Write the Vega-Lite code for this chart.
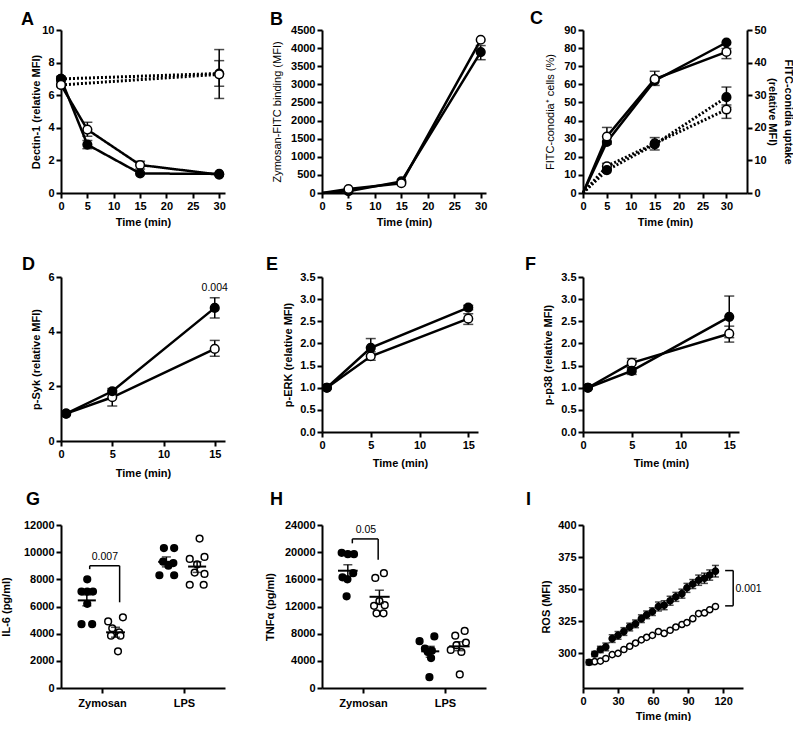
{
"$schema":"https://vega.github.io/schema/vega-lite/v6.json",
"background":"white",
"padding":{"left":0,"top":10,"right":0,"bottom":0},
"columns":3,
"spacing":{"row":84,"column":97},
"bounds":"flush",
"center":{"row":true},
"config":{
 "view":{"stroke":null},
 "font":"Liberation Sans",
 "axis":{"domainColor":"black","domainWidth":2,"tickColor":"black","tickWidth":2,"tickSize":5,"labelColor":"black","labelFont":"Liberation Sans","labelFontSize":11,"labelFontWeight":"bold","labelPadding":2,"labelFlush":false,"labelOverlap":false,"titleColor":"black","titleFont":"Liberation Sans","titleFontSize":11,"titleFontWeight":"bold","grid":false},
 "title":{"anchor":"start","frame":"group","fontSize":18,"fontWeight":"bold","color":"black","font":"Liberation Sans","baseline":"alphabetic"},
 "text":{"font":"Liberation Sans","fontSize":10.5,"color":"black"}
},
"concat":[
{
 "width":164,"height":163,
 "title":{"text":"A","dx":-40,"offset":-5},
 "data":{"values":[
  {"t":0,"v":6.63,"series":"open","style":"solid"},
  {"t":5,"v":3.89,"series":"open","style":"solid","lo":3.48,"hi":4.34},
  {"t":15,"v":1.72,"series":"open","style":"solid","lo":1.47,"hi":1.95},
  {"t":30,"v":1.13,"series":"open","style":"solid"},
  {"t":0,"v":7.0,"series":"closed","style":"solid","lo":6.83,"hi":7.16},
  {"t":5,"v":2.97,"series":"closed","style":"solid","lo":2.72,"hi":3.22},
  {"t":15,"v":1.2,"series":"closed","style":"solid"},
  {"t":30,"v":1.17,"series":"closed","style":"solid"},
  {"t":0,"v":7.0,"series":"closed","style":"dotted"},
  {"t":30,"v":7.33,"series":"closed","style":"dotted","lo":6.55,"hi":8.12},
  {"t":0,"v":6.63,"series":"open","style":"dotted"},
  {"t":30,"v":7.28,"series":"open","style":"dotted","lo":5.8,"hi":8.8}
 ]},
 "layer":[
  {"mark":{"type":"line","color":"black"},
   "encoding":{
    "x":{"field":"t","type":"quantitative","scale":{"domain":[0,31.1],"nice":false,"zero":false},"axis":{"values":[0,5,10,15,20,25,30],"title":"Time (min)","titleY":23}},
    "y":{"field":"v","type":"quantitative","scale":{"domain":[0,10],"nice":false,"zero":false},"axis":{"values":[0,2,4,6,8,10],"title":"Dectin-1 (relative MFI)","titleX":-20}},
    "detail":[{"field":"series"},{"field":"style"}],
    "strokeDash":{"field":"style","type":"nominal","scale":{"domain":["solid","dotted"],"range":[[1,0],[2,2]]},"legend":null},
    "strokeWidth":{"field":"style","type":"nominal","scale":{"domain":["solid","dotted"],"range":[2.5,3]},"legend":null}}},
  {"transform":[{"filter":"isValid(datum.lo)"}],
   "mark":{"type":"errorbar","color":"black","ticks":{"size":10,"thickness":1.5},"rule":{"strokeWidth":1.5}},
   "encoding":{
    "x":{"field":"t","type":"quantitative","scale":{"domain":[0,31.1],"nice":false,"zero":false},"axis":{"values":[0,5,10,15,20,25,30],"title":"Time (min)","titleY":23}},
    "y":{"field":"lo","type":"quantitative","scale":{"domain":[0,10],"nice":false,"zero":false},"axis":{"values":[0,2,4,6,8,10],"title":"Dectin-1 (relative MFI)","titleX":-20}},
    "y2":{"field":"hi"}}},
  {"mark":{"type":"point","shape":"circle","filled":true,"stroke":"black","strokeWidth":1.5,"size":75,"opacity":1},
   "encoding":{
    "x":{"field":"t","type":"quantitative","scale":{"domain":[0,31.1],"nice":false,"zero":false},"axis":{"values":[0,5,10,15,20,25,30],"title":"Time (min)","titleY":23}},
    "y":{"field":"v","type":"quantitative","scale":{"domain":[0,10],"nice":false,"zero":false},"axis":{"values":[0,2,4,6,8,10],"title":"Dectin-1 (relative MFI)","titleX":-20}},
    "fill":{"field":"series","type":"nominal","scale":{"domain":["closed","open"],"range":["black","white"]},"legend":null}}}
 ]
},
{
 "width":164,"height":163,
 "title":{"text":"B","dx":-52,"offset":-5},
 "data":{"values":[
  {"t":0,"v":0,"series":"closed"},
  {"t":5,"v":50,"series":"closed"},
  {"t":15,"v":320,"series":"closed"},
  {"t":30,"v":3890,"series":"closed","lo":3680,"hi":4070},
  {"t":0,"v":0,"series":"open"},
  {"t":5,"v":110,"series":"open"},
  {"t":15,"v":270,"series":"open"},
  {"t":30,"v":4230,"series":"open"}
 ]},
 "layer":[
  {"mark":{"type":"line","color":"black","strokeWidth":2.5},
   "encoding":{
    "x":{"field":"t","type":"quantitative","scale":{"domain":[0,31],"nice":false,"zero":false},"axis":{"values":[0,5,10,15,20,25,30],"title":"Time (min)","titleY":23}},
    "y":{"field":"v","type":"quantitative","scale":{"domain":[0,4500],"nice":false,"zero":false},"axis":{"values":[0,500,1000,1500,2000,2500,3000,3500,4000,4500],"format":"d","title":"Zymosan-FITC binding (MFI)","titleX":-40,"titleFontWeight":"normal"}},
    "detail":{"field":"series"}}},
  {"transform":[{"filter":"isValid(datum.lo)"}],
   "mark":{"type":"errorbar","color":"black","ticks":{"size":10,"thickness":1.5},"rule":{"strokeWidth":1.5}},
   "encoding":{
    "x":{"field":"t","type":"quantitative","scale":{"domain":[0,31],"nice":false,"zero":false},"axis":{"values":[0,5,10,15,20,25,30],"title":"Time (min)","titleY":23}},
    "y":{"field":"lo","type":"quantitative","scale":{"domain":[0,4500],"nice":false,"zero":false},"axis":{"values":[0,500,1000,1500,2000,2500,3000,3500,4000,4500],"format":"d","title":"Zymosan-FITC binding (MFI)","titleX":-40,"titleFontWeight":"normal"}},
    "y2":{"field":"hi"}}},
  {"transform":[{"filter":"datum.t > 0"}],
   "mark":{"type":"point","shape":"circle","filled":true,"stroke":"black","strokeWidth":1.5,"size":75,"opacity":1},
   "encoding":{
    "x":{"field":"t","type":"quantitative","scale":{"domain":[0,31],"nice":false,"zero":false},"axis":{"values":[0,5,10,15,20,25,30],"title":"Time (min)","titleY":23}},
    "y":{"field":"v","type":"quantitative","scale":{"domain":[0,4500],"nice":false,"zero":false},"axis":{"values":[0,500,1000,1500,2000,2500,3000,3500,4000,4500],"format":"d","title":"Zymosan-FITC binding (MFI)","titleX":-40,"titleFontWeight":"normal"}},
    "fill":{"field":"series","type":"nominal","scale":{"domain":["closed","open"],"range":["black","white"]},"legend":null}}}
 ]
},
{
 "width":164,"height":163,
 "title":{"text":"C","dx":-53,"offset":-4},
 "layer":[
  {"data":{"values":[
    {"t":0,"v":0,"series":"closed"},
    {"t":5,"v":28.2,"series":"closed"},
    {"t":15,"v":62,"series":"closed"},
    {"t":30,"v":83.1,"series":"closed"},
    {"t":0,"v":0,"series":"open"},
    {"t":5,"v":31.2,"series":"open","lo":27,"hi":36.2},
    {"t":15,"v":62.9,"series":"open","lo":59.4,"hi":67.2},
    {"t":30,"v":77.9,"series":"open","lo":74.2,"hi":79.8}
   ]},
   "layer":[
    {"mark":{"type":"line","color":"black","strokeWidth":2.5},
     "encoding":{
      "x":{"field":"t","type":"quantitative","scale":{"domain":[0,34.3],"nice":false,"zero":false},"axis":{"values":[0,5,10,15,20,25,30],"title":"Time (min)","titleY":23}},
      "y":{"field":"v","type":"quantitative","scale":{"domain":[0,90],"nice":false,"zero":false},"axis":{"values":[0,10,20,30,40,50,60,70,80,90],"title":"FITC-conodia⁺ cells (%)","titleX":-28,"titleFontWeight":"normal"}},
      "detail":{"field":"series"}}},
    {"transform":[{"filter":"isValid(datum.lo)"}],
     "mark":{"type":"errorbar","color":"black","ticks":{"size":10,"thickness":1.5},"rule":{"strokeWidth":1.5}},
     "encoding":{
      "x":{"field":"t","type":"quantitative","scale":{"domain":[0,34.3],"nice":false,"zero":false},"axis":{"values":[0,5,10,15,20,25,30],"title":"Time (min)","titleY":23}},
      "y":{"field":"lo","type":"quantitative","scale":{"domain":[0,90],"nice":false,"zero":false},"axis":{"values":[0,10,20,30,40,50,60,70,80,90],"title":"FITC-conodia⁺ cells (%)","titleX":-28,"titleFontWeight":"normal"}},
      "y2":{"field":"hi"}}},
    {"transform":[{"filter":"datum.t > 0"}],
     "mark":{"type":"point","shape":"circle","filled":true,"stroke":"black","strokeWidth":1.5,"size":75,"opacity":1},
     "encoding":{
      "x":{"field":"t","type":"quantitative","scale":{"domain":[0,34.3],"nice":false,"zero":false},"axis":{"values":[0,5,10,15,20,25,30],"title":"Time (min)","titleY":23}},
      "y":{"field":"v","type":"quantitative","scale":{"domain":[0,90],"nice":false,"zero":false},"axis":{"values":[0,10,20,30,40,50,60,70,80,90],"title":"FITC-conodia⁺ cells (%)","titleX":-28,"titleFontWeight":"normal"}},
      "fill":{"field":"series","type":"nominal","scale":{"domain":["closed","open"],"range":["black","white"]},"legend":null}}}
   ]},
  {"data":{"values":[
    {"t":0,"v":0,"series":"open"},
    {"t":5,"v":8.2,"series":"open","lo":7.2,"hi":9.1},
    {"t":15,"v":15.2,"series":"open"},
    {"t":30,"v":25.6,"series":"open","lo":22.9,"hi":27},
    {"t":0,"v":0,"series":"closed"},
    {"t":5,"v":7.0,"series":"closed"},
    {"t":15,"v":14.9,"series":"closed","lo":13.2,"hi":17},
    {"t":30,"v":29.4,"series":"closed","lo":26.3,"hi":32.5}
   ]},
   "layer":[
    {"mark":{"type":"line","color":"black","strokeWidth":3,"strokeDash":[2,2]},
     "encoding":{
      "x":{"field":"t","type":"quantitative","scale":{"domain":[0,34.3],"nice":false,"zero":false},"axis":{"values":[0,5,10,15,20,25,30],"title":"Time (min)","titleY":23}},
      "y":{"field":"v","type":"quantitative","scale":{"domain":[0,50],"nice":false,"zero":false},"axis":{"orient":"right","values":[0,10,20,30,40,50],"title":["FITC-conidia uptake","(relative MFI)"],"titleX":35,"titleAngle":90,"titleBaseline":"bottom","titleLineHeight":16}},
      "detail":{"field":"series"}}},
    {"transform":[{"filter":"isValid(datum.lo)"}],
     "mark":{"type":"errorbar","color":"black","ticks":{"size":10,"thickness":1.5},"rule":{"strokeWidth":1.5}},
     "encoding":{
      "x":{"field":"t","type":"quantitative","scale":{"domain":[0,34.3],"nice":false,"zero":false},"axis":{"values":[0,5,10,15,20,25,30],"title":"Time (min)","titleY":23}},
      "y":{"field":"lo","type":"quantitative","scale":{"domain":[0,50],"nice":false,"zero":false},"axis":{"orient":"right","values":[0,10,20,30,40,50],"title":["FITC-conidia uptake","(relative MFI)"],"titleX":35,"titleAngle":90,"titleBaseline":"bottom","titleLineHeight":16}},
      "y2":{"field":"hi"}}},
    {"transform":[{"filter":"datum.t > 0"}],
     "mark":{"type":"point","shape":"circle","filled":true,"stroke":"black","strokeWidth":1.5,"size":75,"opacity":1},
     "encoding":{
      "x":{"field":"t","type":"quantitative","scale":{"domain":[0,34.3],"nice":false,"zero":false},"axis":{"values":[0,5,10,15,20,25,30],"title":"Time (min)","titleY":23}},
      "y":{"field":"v","type":"quantitative","scale":{"domain":[0,50],"nice":false,"zero":false},"axis":{"orient":"right","values":[0,10,20,30,40,50],"title":["FITC-conidia uptake","(relative MFI)"],"titleX":35,"titleAngle":90,"titleBaseline":"bottom","titleLineHeight":16}},
      "fill":{"field":"series","type":"nominal","scale":{"domain":["closed","open"],"range":["black","white"]},"legend":null}}}
   ]}
 ],
 "resolve":{"scale":{"y":"independent"}}
},
{
 "width":164,"height":164,
 "title":{"text":"D","dx":-39,"offset":-3},
 "data":{"values":[
  {"t":0.5,"v":1,"series":"open"},
  {"t":5,"v":1.6,"series":"open","lo":1.28,"hi":1.85},
  {"t":15,"v":3.37,"series":"open","lo":3.1,"hi":3.68},
  {"t":0.5,"v":1,"series":"closed"},
  {"t":5,"v":1.82,"series":"closed","lo":1.75,"hi":1.92},
  {"t":15,"v":4.87,"series":"closed","lo":4.5,"hi":5.24}
 ]},
 "layer":[
  {"mark":{"type":"line","color":"black","strokeWidth":2.5},
   "encoding":{
    "x":{"field":"t","type":"quantitative","scale":{"domain":[0,16],"nice":false,"zero":false},"axis":{"values":[0,5,10,15],"title":"Time (min)","titleY":26}},
    "y":{"field":"v","type":"quantitative","scale":{"domain":[0,6],"nice":false,"zero":false},"axis":{"values":[0,2,4,6],"title":"p-Syk (relative MFI)","titleX":-20}},
    "detail":{"field":"series"}}},
  {"transform":[{"filter":"isValid(datum.lo)"}],
   "mark":{"type":"errorbar","color":"black","ticks":{"size":10,"thickness":1.5},"rule":{"strokeWidth":1.5}},
   "encoding":{
    "x":{"field":"t","type":"quantitative","scale":{"domain":[0,16],"nice":false,"zero":false},"axis":{"values":[0,5,10,15],"title":"Time (min)","titleY":26}},
    "y":{"field":"lo","type":"quantitative","scale":{"domain":[0,6],"nice":false,"zero":false},"axis":{"values":[0,2,4,6],"title":"p-Syk (relative MFI)","titleX":-20}},
    "y2":{"field":"hi"}}},
  {"mark":{"type":"point","shape":"circle","filled":true,"stroke":"black","strokeWidth":1.5,"size":75,"opacity":1},
   "encoding":{
    "x":{"field":"t","type":"quantitative","scale":{"domain":[0,16],"nice":false,"zero":false},"axis":{"values":[0,5,10,15],"title":"Time (min)","titleY":26}},
    "y":{"field":"v","type":"quantitative","scale":{"domain":[0,6],"nice":false,"zero":false},"axis":{"values":[0,2,4,6],"title":"p-Syk (relative MFI)","titleX":-20}},
    "fill":{"field":"series","type":"nominal","scale":{"domain":["closed","open"],"range":["black","white"]},"legend":null}}},
  {"data":{"values":[{"t":15,"v":5.42,"label":"0.004"}]},
   "mark":{"type":"text","baseline":"bottom","align":"center","color":"black"},
   "encoding":{
    "x":{"field":"t","type":"quantitative","scale":{"domain":[0,16],"nice":false,"zero":false},"axis":{"values":[0,5,10,15],"title":"Time (min)","titleY":26}},
    "y":{"field":"v","type":"quantitative","scale":{"domain":[0,6],"nice":false,"zero":false},"axis":{"values":[0,2,4,6],"title":"p-Syk (relative MFI)","titleX":-20}},
    "text":{"field":"label"}}}
 ]
},
{
 "width":156,"height":155,
 "title":{"text":"E","dx":-56,"offset":-3},
 "data":{"values":[
  {"t":0.5,"v":1,"series":"open"},
  {"t":5,"v":1.71,"series":"open","lo":1.62,"hi":1.81},
  {"t":15,"v":2.56,"series":"open","lo":2.43,"hi":2.67},
  {"t":0.5,"v":1,"series":"closed"},
  {"t":5,"v":1.9,"series":"closed","lo":1.75,"hi":2.11},
  {"t":15,"v":2.81,"series":"closed","lo":2.76,"hi":2.86}
 ]},
 "layer":[
  {"mark":{"type":"line","color":"black","strokeWidth":2.5},
   "encoding":{
    "x":{"field":"t","type":"quantitative","scale":{"domain":[0,16],"nice":false,"zero":false},"axis":{"values":[0,5,10,15],"title":"Time (min)","titleY":25}},
    "y":{"field":"v","type":"quantitative","scale":{"domain":[0,3.5],"nice":false,"zero":false},"axis":{"values":[0,0.5,1,1.5,2,2.5,3,3.5],"format":".1f","title":"p-ERK (relative MFI)","titleX":-29}},
    "detail":{"field":"series"}}},
  {"transform":[{"filter":"isValid(datum.lo)"}],
   "mark":{"type":"errorbar","color":"black","ticks":{"size":10,"thickness":1.5},"rule":{"strokeWidth":1.5}},
   "encoding":{
    "x":{"field":"t","type":"quantitative","scale":{"domain":[0,16],"nice":false,"zero":false},"axis":{"values":[0,5,10,15],"title":"Time (min)","titleY":25}},
    "y":{"field":"lo","type":"quantitative","scale":{"domain":[0,3.5],"nice":false,"zero":false},"axis":{"values":[0,0.5,1,1.5,2,2.5,3,3.5],"format":".1f","title":"p-ERK (relative MFI)","titleX":-29}},
    "y2":{"field":"hi"}}},
  {"mark":{"type":"point","shape":"circle","filled":true,"stroke":"black","strokeWidth":1.5,"size":75,"opacity":1},
   "encoding":{
    "x":{"field":"t","type":"quantitative","scale":{"domain":[0,16],"nice":false,"zero":false},"axis":{"values":[0,5,10,15],"title":"Time (min)","titleY":25}},
    "y":{"field":"v","type":"quantitative","scale":{"domain":[0,3.5],"nice":false,"zero":false},"axis":{"values":[0,0.5,1,1.5,2,2.5,3,3.5],"format":".1f","title":"p-ERK (relative MFI)","titleX":-29}},
    "fill":{"field":"series","type":"nominal","scale":{"domain":["closed","open"],"range":["black","white"]},"legend":null}}}
 ]
},
{
 "width":156,"height":155,
 "title":{"text":"F","dx":-58,"offset":-3},
 "data":{"values":[
  {"t":0.5,"v":1,"series":"open"},
  {"t":5,"v":1.56,"series":"open","lo":1.45,"hi":1.66},
  {"t":15,"v":2.22,"series":"open","lo":2.03,"hi":2.39},
  {"t":0.5,"v":1,"series":"closed"},
  {"t":5,"v":1.38,"series":"closed","lo":1.3,"hi":1.45},
  {"t":15,"v":2.6,"series":"closed","lo":2.13,"hi":3.07}
 ]},
 "layer":[
  {"mark":{"type":"line","color":"black","strokeWidth":2.5},
   "encoding":{
    "x":{"field":"t","type":"quantitative","scale":{"domain":[0,16],"nice":false,"zero":false},"axis":{"values":[0,5,10,15],"title":"Time (min)","titleY":25}},
    "y":{"field":"v","type":"quantitative","scale":{"domain":[0,3.5],"nice":false,"zero":false},"axis":{"values":[0,0.5,1,1.5,2,2.5,3,3.5],"format":".1f","title":"p-p38 (relative MFI)","titleX":-30}},
    "detail":{"field":"series"}}},
  {"transform":[{"filter":"isValid(datum.lo)"}],
   "mark":{"type":"errorbar","color":"black","ticks":{"size":10,"thickness":1.5},"rule":{"strokeWidth":1.5}},
   "encoding":{
    "x":{"field":"t","type":"quantitative","scale":{"domain":[0,16],"nice":false,"zero":false},"axis":{"values":[0,5,10,15],"title":"Time (min)","titleY":25}},
    "y":{"field":"lo","type":"quantitative","scale":{"domain":[0,3.5],"nice":false,"zero":false},"axis":{"values":[0,0.5,1,1.5,2,2.5,3,3.5],"format":".1f","title":"p-p38 (relative MFI)","titleX":-30}},
    "y2":{"field":"hi"}}},
  {"mark":{"type":"point","shape":"circle","filled":true,"stroke":"black","strokeWidth":1.5,"size":75,"opacity":1},
   "encoding":{
    "x":{"field":"t","type":"quantitative","scale":{"domain":[0,16],"nice":false,"zero":false},"axis":{"values":[0,5,10,15],"title":"Time (min)","titleY":25}},
    "y":{"field":"v","type":"quantitative","scale":{"domain":[0,3.5],"nice":false,"zero":false},"axis":{"values":[0,0.5,1,1.5,2,2.5,3,3.5],"format":".1f","title":"p-p38 (relative MFI)","titleX":-30}},
    "fill":{"field":"series","type":"nominal","scale":{"domain":["closed","open"],"range":["black","white"]},"legend":null}}}
 ]
},
{
 "width":164,"height":163,
 "title":{"text":"G","dx":-35,"offset":10},
 "layer":[
  {"data":{"values":[
    {"x":0.64,"v":8000,"series":"closed"},{"x":0.50,"v":7100,"series":"closed"},{"x":0.64,"v":7100,"series":"closed"},{"x":0.78,"v":7100,"series":"closed"},{"x":0.64,"v":6200,"series":"closed"},{"x":0.50,"v":4700,"series":"closed"},{"x":0.76,"v":4700,"series":"closed"},
    {"x":1.15,"v":4900,"series":"open"},{"x":1.51,"v":5200,"series":"open"},{"x":1.25,"v":4400,"series":"open"},{"x":1.42,"v":4100,"series":"open"},{"x":1.22,"v":3850,"series":"open"},{"x":1.45,"v":3850,"series":"open"},{"x":1.39,"v":2700,"series":"open"},
    {"x":2.51,"v":10300,"series":"closed"},{"x":2.76,"v":10300,"series":"closed"},{"x":2.49,"v":9300,"series":"closed"},{"x":2.74,"v":9200,"series":"closed"},{"x":2.62,"v":9000,"series":"closed"},{"x":2.40,"v":8300,"series":"closed"},{"x":2.76,"v":8300,"series":"closed"},
    {"x":3.38,"v":11000,"series":"open"},{"x":3.14,"v":9500,"series":"open"},{"x":3.50,"v":9650,"series":"open"},{"x":3.32,"v":9100,"series":"open"},{"x":3.26,"v":8500,"series":"open"},{"x":3.50,"v":8400,"series":"open"},{"x":3.14,"v":7600,"series":"open"},{"x":3.48,"v":7600,"series":"open"}
   ]},
   "mark":{"type":"point","shape":"circle","filled":true,"stroke":"black","strokeWidth":1.5,"size":45,"opacity":1},
   "encoding":{
    "x":{"field":"x","type":"quantitative","scale":{"domain":[0,4],"nice":false,"zero":false},"axis":{"values":[1,3],"labelExpr":"datum.value == 1 ? 'Zymosan' : 'LPS'","title":null,"labelPadding":4}},
    "y":{"field":"v","type":"quantitative","scale":{"domain":[0,12000],"nice":false,"zero":false},"axis":{"values":[0,2000,4000,6000,8000,10000,12000],"format":"d","title":"IL-6 (pg/ml)","titleX":-50}},
    "fill":{"field":"series","type":"nominal","scale":{"domain":["closed","open"],"range":["black","white"]},"legend":null}}},
  {"data":{"values":[
    {"xc":0.63,"x1":0.41,"x2":0.85,"m":6450,"lo":6050,"hi":6850},
    {"xc":1.33,"x1":1.10,"x2":1.56,"m":4100,"lo":3740,"hi":4470},
    {"xc":2.57,"x1":2.37,"x2":2.78,"m":9290,"lo":8920,"hi":9650},
    {"xc":3.32,"x1":3.10,"x2":3.54,"m":8940,"lo":8510,"hi":9290}
   ]},
   "layer":[
    {"mark":{"type":"rule","color":"black","strokeWidth":2},
     "encoding":{
      "x":{"field":"x1","type":"quantitative","scale":{"domain":[0,4],"nice":false,"zero":false},"axis":{"values":[1,3],"labelExpr":"datum.value == 1 ? 'Zymosan' : 'LPS'","title":null,"labelPadding":4}},
      "x2":{"field":"x2"},
      "y":{"field":"m","type":"quantitative","scale":{"domain":[0,12000],"nice":false,"zero":false},"axis":{"values":[0,2000,4000,6000,8000,10000,12000],"format":"d","title":"IL-6 (pg/ml)","titleX":-50}}}},
    {"mark":{"type":"errorbar","color":"black","ticks":{"size":9,"thickness":1.5},"rule":{"strokeWidth":1.5}},
     "encoding":{
      "x":{"field":"xc","type":"quantitative","scale":{"domain":[0,4],"nice":false,"zero":false},"axis":{"values":[1,3],"labelExpr":"datum.value == 1 ? 'Zymosan' : 'LPS'","title":null,"labelPadding":4}},
      "y":{"field":"lo","type":"quantitative","scale":{"domain":[0,12000],"nice":false,"zero":false},"axis":{"values":[0,2000,4000,6000,8000,10000,12000],"format":"d","title":"IL-6 (pg/ml)","titleX":-50}},
      "y2":{"field":"hi"}}}
   ]},
  {"data":{"values":[
    {"x":0.70,"x2":1.43,"y":9000,"y2":9000},
    {"x":0.70,"x2":0.70,"y":8750,"y2":9000},
    {"x":1.43,"x2":1.43,"y":6310,"y2":9000}
   ]},
   "mark":{"type":"rule","color":"black","strokeWidth":1.5},
   "encoding":{
    "x":{"field":"x","type":"quantitative","scale":{"domain":[0,4],"nice":false,"zero":false},"axis":{"values":[1,3],"labelExpr":"datum.value == 1 ? 'Zymosan' : 'LPS'","title":null,"labelPadding":4}},
    "x2":{"field":"x2"},
    "y":{"field":"y","type":"quantitative","scale":{"domain":[0,12000],"nice":false,"zero":false},"axis":{"values":[0,2000,4000,6000,8000,10000,12000],"format":"d","title":"IL-6 (pg/ml)","titleX":-50}},
    "y2":{"field":"y2"}}},
  {"data":{"values":[{"x":1.07,"y":9300,"label":"0.007"}]},
   "mark":{"type":"text","baseline":"bottom","align":"center","color":"black"},
   "encoding":{
    "x":{"field":"x","type":"quantitative","scale":{"domain":[0,4],"nice":false,"zero":false},"axis":{"values":[1,3],"labelExpr":"datum.value == 1 ? 'Zymosan' : 'LPS'","title":null,"labelPadding":4}},
    "y":{"field":"y","type":"quantitative","scale":{"domain":[0,12000],"nice":false,"zero":false},"axis":{"values":[0,2000,4000,6000,8000,10000,12000],"format":"d","title":"IL-6 (pg/ml)","titleX":-50}},
    "text":{"field":"label"}}}
 ]
},
{
 "width":164,"height":163,
 "title":{"text":"H","dx":-52,"offset":10},
 "layer":[
  {"data":{"values":[
    {"x":0.48,"v":19900,"series":"closed"},{"x":0.63,"v":19700,"series":"closed"},{"x":0.78,"v":19700,"series":"closed"},{"x":0.50,"v":16300,"series":"closed"},{"x":0.76,"v":16900,"series":"closed"},{"x":0.62,"v":16000,"series":"closed"},{"x":0.60,"v":13500,"series":"closed"},
    {"x":1.30,"v":16200,"series":"open"},{"x":1.51,"v":16900,"series":"open"},{"x":1.40,"v":12800,"series":"open"},{"x":1.27,"v":12100,"series":"open"},{"x":1.33,"v":11000,"series":"open"},{"x":1.50,"v":11000,"series":"open"},{"x":1.53,"v":12200,"series":"open"},
    {"x":2.38,"v":6900,"series":"closed"},{"x":2.74,"v":7600,"series":"closed"},{"x":2.51,"v":5800,"series":"closed"},{"x":2.68,"v":5500,"series":"closed"},{"x":2.58,"v":5300,"series":"closed"},{"x":2.66,"v":4400,"series":"closed"},{"x":2.62,"v":1600,"series":"closed"},
    {"x":3.25,"v":7700,"series":"open"},{"x":3.48,"v":8400,"series":"open"},{"x":3.51,"v":6700,"series":"open"},{"x":3.28,"v":6300,"series":"open"},{"x":3.14,"v":5600,"series":"open"},{"x":3.40,"v":5300,"series":"open"},{"x":3.36,"v":2000,"series":"open"}
   ]},
   "mark":{"type":"point","shape":"circle","filled":true,"stroke":"black","strokeWidth":1.5,"size":45,"opacity":1},
   "encoding":{
    "x":{"field":"x","type":"quantitative","scale":{"domain":[0,4],"nice":false,"zero":false},"axis":{"values":[1,3],"labelExpr":"datum.value == 1 ? 'Zymosan' : 'LPS'","title":null,"labelPadding":4}},
    "y":{"field":"v","type":"quantitative","scale":{"domain":[0,24000],"nice":false,"zero":false},"axis":{"values":[0,4000,8000,12000,16000,20000,24000],"format":"d","title":"TNFα (pg/ml)","titleX":-47}},
    "fill":{"field":"series","type":"nominal","scale":{"domain":["closed","open"],"range":["black","white"]},"legend":null}}},
  {"data":{"values":[
    {"xc":0.63,"x1":0.39,"x2":0.87,"m":17270,"lo":16450,"hi":18150},
    {"xc":1.40,"x1":1.16,"x2":1.65,"m":13430,"lo":12460,"hi":14400},
    {"xc":2.64,"x1":2.42,"x2":2.86,"m":5400,"lo":4530,"hi":6130},
    {"xc":3.35,"x1":3.10,"x2":3.60,"m":6130,"lo":5500,"hi":6810}
   ]},
   "layer":[
    {"mark":{"type":"rule","color":"black","strokeWidth":2},
     "encoding":{
      "x":{"field":"x1","type":"quantitative","scale":{"domain":[0,4],"nice":false,"zero":false},"axis":{"values":[1,3],"labelExpr":"datum.value == 1 ? 'Zymosan' : 'LPS'","title":null,"labelPadding":4}},
      "x2":{"field":"x2"},
      "y":{"field":"m","type":"quantitative","scale":{"domain":[0,24000],"nice":false,"zero":false},"axis":{"values":[0,4000,8000,12000,16000,20000,24000],"format":"d","title":"TNFα (pg/ml)","titleX":-47}}}},
    {"mark":{"type":"errorbar","color":"black","ticks":{"size":9,"thickness":1.5},"rule":{"strokeWidth":1.5}},
     "encoding":{
      "x":{"field":"xc","type":"quantitative","scale":{"domain":[0,4],"nice":false,"zero":false},"axis":{"values":[1,3],"labelExpr":"datum.value == 1 ? 'Zymosan' : 'LPS'","title":null,"labelPadding":4}},
      "y":{"field":"lo","type":"quantitative","scale":{"domain":[0,24000],"nice":false,"zero":false},"axis":{"values":[0,4000,8000,12000,16000,20000,24000],"format":"d","title":"TNFα (pg/ml)","titleX":-47}},
      "y2":{"field":"hi"}}}
   ]},
  {"data":{"values":[
    {"x":0.74,"x2":1.37,"y":21950,"y2":21950},
    {"x":0.74,"x2":0.74,"y":21300,"y2":21950},
    {"x":1.37,"x2":1.37,"y":18880,"y2":21950}
   ]},
   "mark":{"type":"rule","color":"black","strokeWidth":1.5},
   "encoding":{
    "x":{"field":"x","type":"quantitative","scale":{"domain":[0,4],"nice":false,"zero":false},"axis":{"values":[1,3],"labelExpr":"datum.value == 1 ? 'Zymosan' : 'LPS'","title":null,"labelPadding":4}},
    "x2":{"field":"x2"},
    "y":{"field":"y","type":"quantitative","scale":{"domain":[0,24000],"nice":false,"zero":false},"axis":{"values":[0,4000,8000,12000,16000,20000,24000],"format":"d","title":"TNFα (pg/ml)","titleX":-47}},
    "y2":{"field":"y2"}}},
  {"data":{"values":[{"x":1.07,"y":22600,"label":"0.05"}]},
   "mark":{"type":"text","baseline":"bottom","align":"center","color":"black"},
   "encoding":{
    "x":{"field":"x","type":"quantitative","scale":{"domain":[0,4],"nice":false,"zero":false},"axis":{"values":[1,3],"labelExpr":"datum.value == 1 ? 'Zymosan' : 'LPS'","title":null,"labelPadding":4}},
    "y":{"field":"y","type":"quantitative","scale":{"domain":[0,24000],"nice":false,"zero":false},"axis":{"values":[0,4000,8000,12000,16000,20000,24000],"format":"d","title":"TNFα (pg/ml)","titleX":-47}},
    "text":{"field":"label"}}}
 ]
},
{
 "width":160,"height":163,
 "title":{"text":"I","dx":-57,"offset":10},
 "layer":[
  {"data":{"values":[
    {"t":5.2,"v":293,"lo":291,"hi":295},{"t":10,"v":299.5,"lo":297.5,"hi":301.5},{"t":14.9,"v":303,"lo":300.5,"hi":305.5},{"t":19.5,"v":305,"lo":302,"hi":308},{"t":25,"v":311.5,"lo":308.5,"hi":314.5},{"t":30,"v":314,"lo":311,"hi":317},{"t":35,"v":317,"lo":314,"hi":320},{"t":40,"v":320.5,"lo":317.5,"hi":323.5},{"t":45,"v":323,"lo":320,"hi":326},{"t":50,"v":327,"lo":324,"hi":330},{"t":54.5,"v":330,"lo":327,"hi":333},{"t":59.4,"v":332.5,"lo":329.5,"hi":335.5},{"t":64.6,"v":336.5,"lo":333,"hi":340},{"t":69.5,"v":337.5,"lo":334,"hi":341},{"t":74.6,"v":341,"lo":337.5,"hi":344.5},{"t":79.5,"v":344,"lo":340.5,"hi":347.5},{"t":84.7,"v":346.5,"lo":343,"hi":350},{"t":89,"v":351,"lo":347.5,"hi":354.5},{"t":94,"v":354,"lo":350.5,"hi":357.5},{"t":99,"v":357,"lo":353,"hi":361},{"t":104,"v":358.5,"lo":354.5,"hi":362.5},{"t":108.5,"v":361,"lo":357,"hi":365},{"t":113.4,"v":364,"lo":359.5,"hi":368.5}
   ]},
   "mark":{"type":"errorbar","color":"black","ticks":{"size":7,"thickness":1.5},"rule":{"strokeWidth":1.5}},
   "encoding":{
    "x":{"field":"t","type":"quantitative","scale":{"domain":[0,137],"nice":false,"zero":false},"axis":{"values":[0,30,60,90,120],"title":"Time (min)","titleY":22}},
    "y":{"field":"lo","type":"quantitative","scale":{"domain":[273,400],"nice":false,"zero":false},"axis":{"values":[300,325,350,375,400],"title":"ROS (MFI)","titleX":-32}},
    "y2":{"field":"hi"}}},
  {"data":{"values":[
    {"t":10,"v":293.5,"series":"open"},{"t":14.9,"v":294,"series":"open"},{"t":19.5,"v":296,"series":"open"},{"t":25,"v":299,"series":"open"},{"t":30,"v":300,"series":"open"},{"t":35,"v":303,"series":"open"},{"t":40,"v":305.5,"series":"open"},{"t":45,"v":308,"series":"open"},{"t":50,"v":310.5,"series":"open"},{"t":54.5,"v":312.5,"series":"open"},{"t":59.4,"v":314,"series":"open"},{"t":64.6,"v":317,"series":"open"},{"t":69.5,"v":315.5,"series":"open"},{"t":74.6,"v":318,"series":"open"},{"t":79.5,"v":320.5,"series":"open"},{"t":84.7,"v":322.5,"series":"open"},{"t":89,"v":324,"series":"open"},{"t":94,"v":327,"series":"open"},{"t":99,"v":331,"series":"open"},{"t":104,"v":331.5,"series":"open"},{"t":108.5,"v":334,"series":"open"},{"t":113.4,"v":336.5,"series":"open"},
    {"t":5.2,"v":293,"series":"closed"},{"t":10,"v":299.5,"series":"closed"},{"t":14.9,"v":303,"series":"closed"},{"t":19.5,"v":305,"series":"closed"},{"t":25,"v":311.5,"series":"closed"},{"t":30,"v":314,"series":"closed"},{"t":35,"v":317,"series":"closed"},{"t":40,"v":320.5,"series":"closed"},{"t":45,"v":323,"series":"closed"},{"t":50,"v":327,"series":"closed"},{"t":54.5,"v":330,"series":"closed"},{"t":59.4,"v":332.5,"series":"closed"},{"t":64.6,"v":336.5,"series":"closed"},{"t":69.5,"v":337.5,"series":"closed"},{"t":74.6,"v":341,"series":"closed"},{"t":79.5,"v":344,"series":"closed"},{"t":84.7,"v":346.5,"series":"closed"},{"t":89,"v":351,"series":"closed"},{"t":94,"v":354,"series":"closed"},{"t":99,"v":357,"series":"closed"},{"t":104,"v":358.5,"series":"closed"},{"t":108.5,"v":361,"series":"closed"},{"t":113.4,"v":364,"series":"closed"}
   ]},
   "mark":{"type":"point","shape":"circle","filled":true,"stroke":"black","strokeWidth":1.5,"size":38,"opacity":1},
   "encoding":{
    "x":{"field":"t","type":"quantitative","scale":{"domain":[0,137],"nice":false,"zero":false},"axis":{"values":[0,30,60,90,120],"title":"Time (min)","titleY":22}},
    "y":{"field":"v","type":"quantitative","scale":{"domain":[273,400],"nice":false,"zero":false},"axis":{"values":[300,325,350,375,400],"title":"ROS (MFI)","titleX":-32}},
    "fill":{"field":"series","type":"nominal","scale":{"domain":["closed","open"],"range":["black","white"]},"legend":null}}},
  {"data":{"values":[
    {"x":121.7,"x2":128.6,"y":364.5,"y2":364.5},
    {"x":121.7,"x2":128.6,"y":337,"y2":337},
    {"x":128.6,"x2":128.6,"y":337,"y2":364.5}
   ]},
   "mark":{"type":"rule","color":"black","strokeWidth":1.5},
   "encoding":{
    "x":{"field":"x","type":"quantitative","scale":{"domain":[0,137],"nice":false,"zero":false},"axis":{"values":[0,30,60,90,120],"title":"Time (min)","titleY":22}},
    "x2":{"field":"x2"},
    "y":{"field":"y","type":"quantitative","scale":{"domain":[273,400],"nice":false,"zero":false},"axis":{"values":[300,325,350,375,400],"title":"ROS (MFI)","titleX":-32}},
    "y2":{"field":"y2"}}},
  {"data":{"values":[{"x":130.5,"y":350.5,"label":"0.001"}]},
   "mark":{"type":"text","baseline":"middle","align":"left","color":"black"},
   "encoding":{
    "x":{"field":"x","type":"quantitative","scale":{"domain":[0,137],"nice":false,"zero":false},"axis":{"values":[0,30,60,90,120],"title":"Time (min)","titleY":22}},
    "y":{"field":"y","type":"quantitative","scale":{"domain":[273,400],"nice":false,"zero":false},"axis":{"values":[300,325,350,375,400],"title":"ROS (MFI)","titleX":-32}},
    "text":{"field":"label"}}}
 ]
}
]
}
